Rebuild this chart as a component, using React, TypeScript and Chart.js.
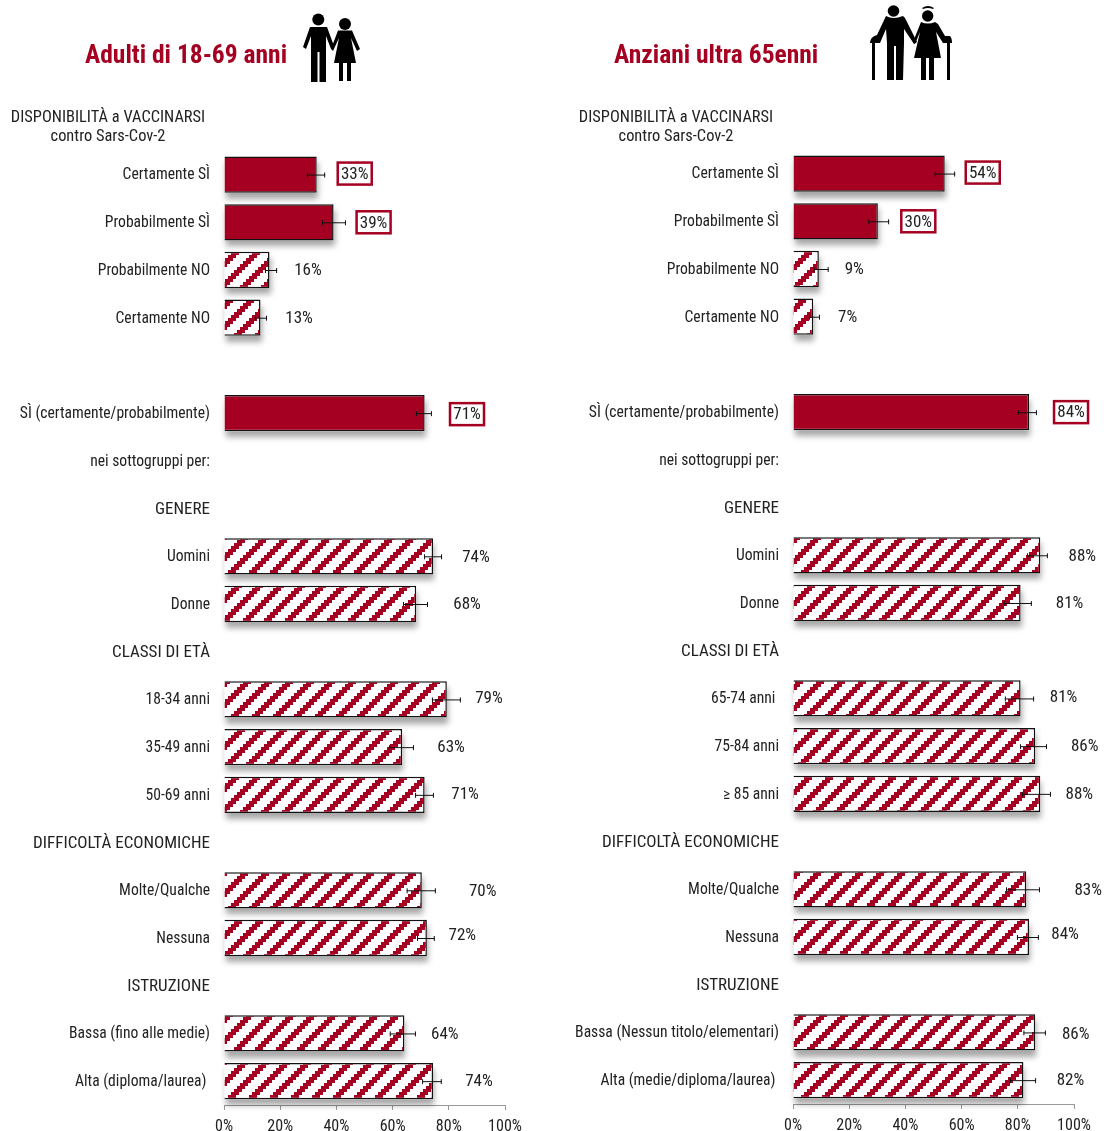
import React, { useEffect, useRef } from "react";
import { Chart, registerables } from "chart.js";

Chart.register(...registerables);

const RED = "#A50021";
const FONT = "'Roboto Condensed', 'Liberation Sans', Arial, sans-serif";

const HEAD = ["DISPONIBILITÀ a VACCINARSI", "contro Sars-Cov-2"];

const adultLabels = ["", "Certamente SÌ", "Probabilmente SÌ", "Probabilmente NO", "Certamente NO", "", "SÌ (certamente/probabilmente)", "nei sottogruppi per:", "GENERE", "Uomini", "Donne", "CLASSI DI ETÀ", "18-34 anni", "35-49 anni", "50-69 anni", "DIFFICOLTÀ ECONOMICHE", "Molte/Qualche", "Nessuna", "ISTRUZIONE", "Bassa (fino alle medie)", "Alta (diploma/laurea) "];
const elderLabels = ["", "Certamente SÌ", "Probabilmente SÌ", "Probabilmente NO", "Certamente NO", "", "SÌ (certamente/probabilmente)", "nei sottogruppi per:", "GENERE", "Uomini", "Donne", "CLASSI DI ETÀ", "65-74 anni ", "75-84 anni", "≥ 85 anni", "DIFFICOLTÀ ECONOMICHE", "Molte/Qualche", "Nessuna", "ISTRUZIONE", "Bassa (Nessun titolo/elementari)", "Alta (medie/diploma/laurea) "];

const adultValues = [null, 33, 39, 16.2, 13, null, 71.4, null, null, 74.4, 68.4, null, 79.3, 63.4, 71.4, null, 70.4, 72.2, null, 64.2, 74.4];
const elderValues = [null, 54, 30.2, 9.2, 7.2, null, 84, null, null, 88, 81, null, 81, 86.2, 88, null, 83, 84, null, 86.2, 82];

const adultLow = [null, 29.5, 34.9, 14.6, 11, null, 68.3, null, null, 71.2, 63.7, null, 74, 58.7, 68, null, 65, 68.7, null, 59, 70.5];
const adultHigh = [null, 36, 43.4, 18.9, 15.3, null, 74, null, null, 77.6, 72.6, null, 84.3, 67.6, 74.7, null, 75.4, 75, null, 68.3, 77.5];
const elderLow = [null, 50.4, 26.8, 7.3, 5.7, null, 80, null, null, 83.3, 75, null, 75.4, 80.8, 81.5, null, 75.8, 79.7, null, 82, 77.2];
const elderHigh = [null, 57.7, 34.2, 12.7, 9.6, null, 86.8, null, null, 90.7, 85, null, 85.8, 90.4, 91.8, null, 87.9, 87.5, null, 90, 86.5];

const solidRows = [1, 2, 6];

// label placement relative to the bar end (layout only)
const adultGapX = [0, 38, 40, 39, 38.5, 0, 43.5, 0, 0, 44, 52, 0, 43, 50, 41.5, 0, 62, 36, 0, 41, 47];
const adultGapY = [0, -1, 0, 0, 0, 0, 1, 0, 0, 0, 0, 0, -2, 0, -1, 0, 0, -3, 0, 0, 0];
const elderGapX = [0, 38, 41, 36, 35, 0, 42, 0, 0, 42, 49, 0, 43, 50, 39, 0, 62, 36, 0, 41, 47];
const elderGapY = [0, -1, 0, 0, 0, 0, 0, 0, 0, 0, 0, 0, -2, 0, 0, 0, 0, -3, 0, 1, 0];

function hatch(ctx: CanvasRenderingContext2D) {
  const c = document.createElement("canvas");
  c.width = 21;
  c.height = 21;
  const g = c.getContext("2d")!;
  g.fillStyle = "#fff";
  g.fillRect(0, 0, 21, 21);
  g.fillStyle = RED;
  for (let x = 0; x < 21; x++)
    for (let y = 0; y < 21; y++)
      if ((x + Math.floor(y / 3) * 3) % 21 < 8) g.fillRect(x, y, 1, 1);
  return ctx.createPattern(c, "repeat")!;
}

const isCaps = (s: string) => s.length > 0 && s === s.toUpperCase() && /[A-Z]/.test(s);

type PanelProps = {
  left: number;
  labels: string[];
  values: (number | null)[];
  low: (number | null)[];
  high: (number | null)[];
  gapX: number[];
  gapY: number[];
  title: string;
  titleX: number;
  headX: number;
  axisLeft: number;
  rightPad: number;
  top: number;
  bottom: number;
};

function Panel(p: PanelProps) {
  const ref = useRef<HTMLCanvasElement>(null);
  useEffect(() => {
    const canvas = ref.current!;
    const ctx = canvas.getContext("2d")!;
    const pat = hatch(ctx);
    const shifted = new WeakSet<object>();
    const overlay = {
      id: "overlay",
      beforeDraw(chart: any) {
        const items = chart.scales.y.getLabelItems();
        if (!shifted.has(items)) {
          shifted.add(items);
          items.forEach((it: any) => {
            it.options.translation = [it.options.translation[0], it.options.translation[1] + 1];
          });
        }
      },
      beforeDatasetsDraw(chart: any) {
        // Bar elements clip to their own rectangle, so the drop shadow is laid down first.
        const c = chart.ctx;
        c.save();
        c.shadowColor = "rgba(0,0,0,0.35)";
        c.shadowBlur = 6;
        c.shadowOffsetX = 1;
        c.shadowOffsetY = 6;
        c.fillStyle = "#fff";
        chart.getDatasetMeta(0).data.forEach((el: any, i: number) => {
          if (p.values[i] == null) return;
          const props = el.getProps(["x", "y", "base", "height"], true);
          c.fillRect(props.base, props.y - props.height / 2, props.x - props.base, props.height);
        });
        c.restore();
      },
      afterDatasetsDraw(chart: any) {
        const c = chart.ctx;
        const x = chart.scales.x;
        const y = chart.scales.y;
        p.values.forEach((v, i) => {
          if (v == null) return;
          const cy = y.getPixelForValue(i);
          const x0 = x.getPixelForValue(p.low[i]!);
          const x1 = x.getPixelForValue(p.high[i]!);
          c.strokeStyle = "#111";
          c.lineWidth = 1;
          c.beginPath();
          c.moveTo(x0, cy + 0.5);
          c.lineTo(x1, cy + 0.5);
          c.moveTo(x0 + 0.5, cy - 2);
          c.lineTo(x0 + 0.5, cy + 3);
          c.moveTo(x1 - 0.5, cy - 2);
          c.lineTo(x1 - 0.5, cy + 3);
          c.stroke();

          const shown = Math.round(v);
          const lx = x.getPixelForValue(shown) + p.gapX[i];
          const ly = cy + p.gapY[i];
          if (solidRows.includes(i)) {
            c.fillStyle = "#fff";
            c.fillRect(lx - 17, ly - 11, 34, 22);
            c.strokeStyle = RED;
            c.lineWidth = 2.5;
            c.strokeRect(lx - 17, ly - 11, 34, 22);
          }
          c.fillStyle = "#222";
          c.font = `17px ${FONT}`;
          c.textAlign = "center";
          c.textBaseline = "middle";
          c.fillText(`${shown}%`, lx, ly + 1);
        });
        c.save();
        c.fillStyle = RED;
        c.font = `bold 25.5px ${FONT}`;
        c.textAlign = "left";
        c.textBaseline = "middle";
        c.fillText(p.title, p.titleX, 57);
        c.fillStyle = "#222";
        c.font = `16.4px ${FONT}`;
        c.textAlign = "center";
        c.fillText(HEAD[0], p.headX, 118);
        c.fillText(HEAD[1], p.headX, 137);
        c.restore();
      },
    };
    const chart = new Chart(ctx, {
      type: "bar",
      data: {
        labels: p.labels,
        datasets: [
          {
            data: p.values as any,
            backgroundColor: p.values.map((_, i) => (solidRows.includes(i) ? RED : pat)) as any,
            borderColor: "#111",
            borderWidth: 1.5,
            barPercentage: 0.76,
            categoryPercentage: 1,
            clip: false as any,
          },
        ],
      },
      options: {
        indexAxis: "y",
        animation: false,
        responsive: false,
        layout: { padding: { top: p.top, right: p.rightPad, bottom: p.bottom, left: 0 } },
        plugins: { legend: { display: false }, tooltip: { enabled: false } },
        scales: {
          x: {
            min: 0,
            max: 100,
            afterFit(s: any) {
              s.height = 26;
            },
            ticks: {
              stepSize: 20,
              callback: (v: any) => `${v}%`,
              font: { family: FONT, size: 16 },
              color: "#222",
              padding: 7,
              maxRotation: 0,
            },
            grid: { drawOnChartArea: false, color: "#999", tickLength: 5 },
            border: { color: "#999" },
          },
          y: {
            afterFit(s: any) {
              s.width = p.axisLeft;
            },
            ticks: {
              autoSkip: false,
              font: (c: any) => ({ family: FONT, size: isCaps(p.labels[c.index] || "") ? 17 : 15.6 }),
              color: "#222",
              padding: 14,
            },
            grid: { display: false, drawTicks: false },
            border: { display: false },
          },
        },
      },
      plugins: [overlay],
    } as any);
    return () => chart.destroy();
  }, []);
  return (
    <canvas
      ref={ref}
      width={552}
      height={1131}
      style={{ position: "absolute", left: p.left, top: 0, width: 552, height: 1131, display: "block" }}
    />
  );
}

function AdultIcon() {
  return (
    <svg width={1104} height={100} style={{ position: "absolute", left: 0, top: 0 }}>
      <circle cx={318.3} cy={19.5} r={6} />
      <path d="M310 27 H327 L334 46 L331 49 L326 36 V82 H319.5 V52 H317.5 V82 H311 V36 L306 49 L303 47 Z" />
      <circle cx={345} cy={24} r={6} />
      <path d="M338 30.5 H352 L360 49 L357 51 L351 38 L356 63 H351 V81 H347 V63 H343 V81 H339 V63 H334 L339 38 L333 51 L331 49 Z" />
    </svg>
  );
}

function ElderIcon() {
  return (
    <svg width={1104} height={100} style={{ position: "absolute", left: 0, top: 0 }}>
      <circle cx={893.5} cy={11} r={5.8} />
      <path d="M886 16 Q893 20 903 16 L905 18 L917 42 L914 44 L904 29 V43 L903 80 H896 V46 H894 V80 H887 V43 L886 29 L880 43 H875 V80 H872 V43 H870 Q870 37 877 35 Z" />
      <circle cx={927.7} cy={16} r={5.7} />
      <path d="M922 8 Q928 4 934 8 L933 9 Q928 7 923 9 Z" />
      <path d="M921 22 Q928 25 935 22 L938 24 L945 36 H950 Q952 38 952 43 H950 V80 H947 V43 H943 L936 32 L941 58 H934 V80 H929 V58 H926 V80 H921 V58 H914 L920 32 L915 44 L913 42 Z" />
    </svg>
  );
}

export default function App() {
  return (
    <div style={{ position: "absolute", left: 0, top: 0, width: 1104, height: 1131 }}>
      <Panel
        left={0}
        labels={adultLabels}
        values={adultValues}
        low={adultLow}
        high={adultHigh}
        gapX={adultGapX}
        gapY={adultGapY}
        title="Adulti di 18-69 anni"
        titleX={85}
        headX={108}
        axisLeft={224}
        rightPad={47}
        top={103}
        bottom={0}
      />
      <Panel
        left={552}
        labels={elderLabels}
        values={elderValues}
        low={elderLow}
        high={elderHigh}
        gapX={elderGapX}
        gapY={elderGapY}
        title="Anziani ultra 65enni"
        titleX={62}
        headX={124}
        axisLeft={241}
        rightPad={30}
        top={102}
        bottom={1}
      />
      <AdultIcon />
      <ElderIcon />
    </div>
  );
}
